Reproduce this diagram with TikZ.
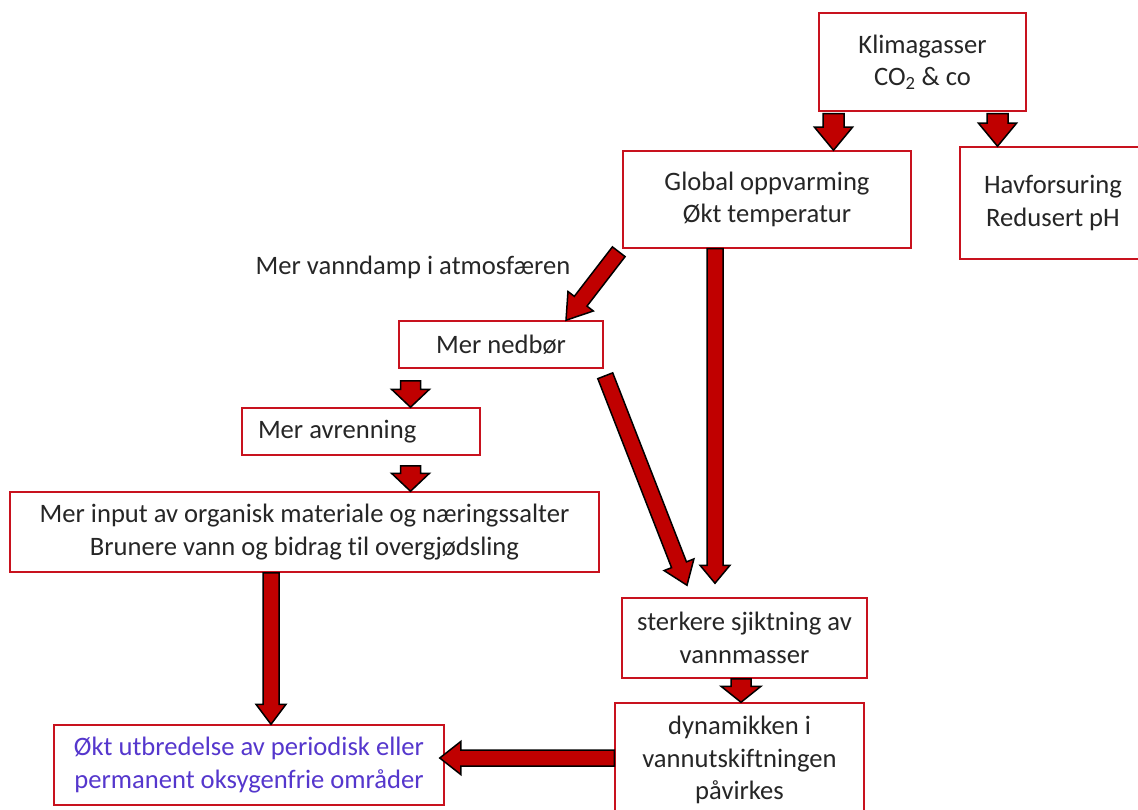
\documentclass[tikz,border=0pt]{standalone}
\usepackage{fontspec}
\setmainfont[Ligatures=NoCommon]{Carlito}
\usetikzlibrary{calc}
\definecolor{boxred}{RGB}{200,18,30}
\definecolor{arrowred}{RGB}{192,0,0}
\definecolor{textgray}{RGB}{38,38,38}
\definecolor{textblue}{RGB}{85,55,205}
\tikzstyle{box} = [draw=boxred, line width=1.5pt, fill=white, inner sep=0pt, align=center, text=textgray, font=\fontsize{26.6}{32.5}\selectfont]
\tikzstyle{label_text} = [inner sep=0pt, text=textgray, font=\fontsize{26.6}{32.5}\selectfont]
\tikzstyle{block_arrow} = [draw=black, line width=1.5pt, fill=arrowred, line join=miter]
% block arrow: from, to, shaft half width, head half width, head length
\newcommand{\drawblockarrow}[5]{%
  \coordinate (head_base) at ($(#2)!#5!(#1)$);
  \draw[block_arrow] ($(#1)!#3!90:(#2)$) -- ($(head_base)!#3!90:(#2)$) -- ($(head_base)!#4!90:(#2)$) -- (#2)
    -- ($(head_base)!#4!-90:(#2)$) -- ($(head_base)!#3!-90:(#2)$) -- ($(#1)!#3!-90:(#2)$) -- cycle;
}

\begin{document}
\begin{tikzpicture}[x=1pt, y=-1pt]
  \useasboundingbox (0,0) rectangle (1138,810);

  \node (klima) [box, minimum width=207pt, minimum height=98pt] at (922.5,62) {Klimagasser\\CO\textsubscript{2} \& co};
  \node (global) [box, minimum width=288pt, minimum height=97pt] at (767,199.5) {Global oppvarming\\Økt temperatur};
  \node (hav) [box, minimum width=186pt, minimum height=112pt] at (1053,203) {Havforsuring\\Redusert pH};
  \node (vanndamp) [label_text] at (413,267) {Mer vanndamp i atmosfæren};
  \node (nedbor) [box, minimum width=204pt, minimum height=47pt] at (501,344.5) {Mer nedbør};
  \node (avrenning) [box, text width=206pt, inner xsep=16pt, align=flush left, minimum height=47pt] at (361,431.5) {Mer avrenning};
  \node (input) [box, minimum width=589pt, minimum height=80pt] at (304.5,532) {Mer input av organisk materiale og næringssalter\\Brunere vann og bidrag til overgjødsling};
  \node (sjikt) [box, minimum width=245pt, minimum height=80pt] at (744.5,638) {sterkere sjiktning av\\vannmasser};
  \node (dyn) [box, minimum width=249pt, minimum height=114pt] at (739.5,760) {dynamikken i\\vannutskiftningen\\påvirkes};
  \node (okt) [box, text=textblue, minimum width=390pt, minimum height=80pt] at (249,765) {Økt utbredelse av periodisk eller\\permanent oksygenfrie områder};

  % arrow ends
  \coordinate (klima_out_1) at ([xshift=-89pt, yshift=-2pt]klima.south);
  \coordinate (global_in) at ([xshift=66.5pt]global.north);
  \coordinate (klima_out_2) at ([xshift=75pt, yshift=-2pt]klima.south);
  \coordinate (hav_in) at ([xshift=-55.5pt]hav.north);
  \coordinate (global_out_1) at ([xshift=-3.5pt, yshift=-3pt]global.south west);
  \coordinate (nedbor_in) at ([xshift=65pt]nedbor.north);
  \coordinate (global_out_2) at ([xshift=-52pt]global.south);
  \coordinate (sjikt_in_1) at ([xshift=-29.5pt, yshift=14pt]sjikt.north);
  \coordinate (nedbor_out_1) at ([xshift=1.5pt, yshift=-7pt]nedbor.south east);
  \coordinate (sjikt_in_2) at ([xshift=-57.5pt, yshift=12pt]sjikt.north);
  \coordinate (nedbor_out_2) at ([xshift=-90.5pt, yshift=-12pt]nedbor.south);
  \coordinate (avrenning_in) at ([xshift=49.5pt]avrenning.north);
  \coordinate (avrenning_out) at ([xshift=49.5pt, yshift=-10pt]avrenning.south);
  \coordinate (input_in) at ([xshift=106pt]input.north);
  \coordinate (input_out) at ([xshift=-33.5pt]input.south);
  \coordinate (okt_in_1) at ([xshift=22pt]okt.north);
  \coordinate (sjikt_out) at ([xshift=-3.5pt]sjikt.south);
  \coordinate (dyn_in) at ([xshift=1.5pt]dyn.north);
  \coordinate (dyn_out) at ([yshift=2pt]dyn.west);
  \coordinate (okt_in_2) at ([xshift=-5pt, yshift=7pt]okt.east);

  \drawblockarrow{klima_out_1}{global_in}{10.5pt}{19pt}{23pt}
  \drawblockarrow{klima_out_2}{hav_in}{10.5pt}{19pt}{23pt}
  \drawblockarrow{global_out_1}{nedbor_in}{8pt}{16pt}{24pt}
  \drawblockarrow{global_out_2}{sjikt_in_1}{8pt}{15pt}{18pt}
  \drawblockarrow{nedbor_out_1}{sjikt_in_2}{8pt}{16pt}{22pt}
  \drawblockarrow{nedbor_out_2}{avrenning_in}{10pt}{19pt}{18pt}
  \drawblockarrow{avrenning_out}{input_in}{10pt}{19pt}{18pt}
  \drawblockarrow{input_out}{okt_in_1}{8pt}{15pt}{20pt}
  \drawblockarrow{sjikt_out}{dyn_in}{10pt}{20pt}{16pt}
  \drawblockarrow{dyn_out}{okt_in_2}{8pt}{16.5pt}{21pt}
\end{tikzpicture}
\end{document}
